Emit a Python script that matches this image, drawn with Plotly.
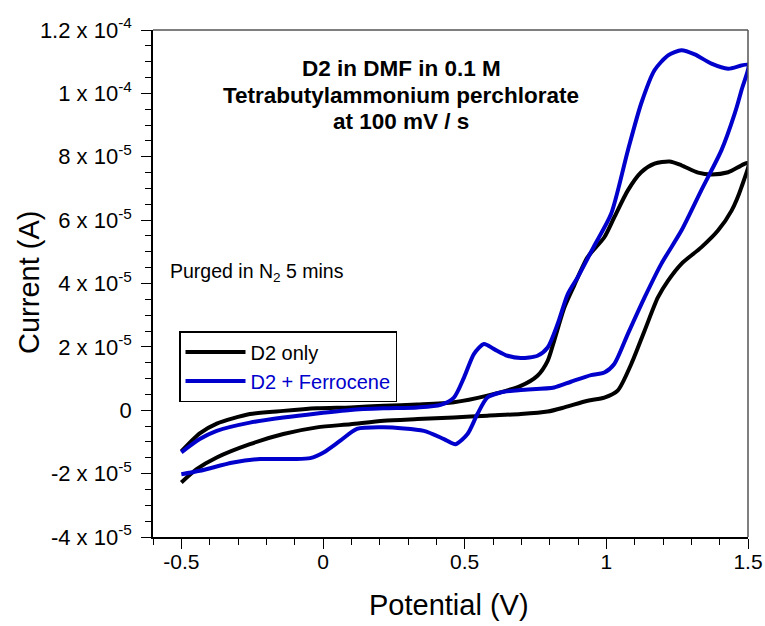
import plotly.graph_objects as go

# D2 only (black): anodic branch then cathodic return (current in microamps)
d2_fwd_x = [-0.5, -0.435, -0.375, -0.258, -0.14, -0.021, 0.097, 0.214, 0.333, 0.462, 0.58, 0.698, 0.757, 0.793, 0.816, 0.852, 0.887, 0.934, 0.993, 1.028, 1.076, 1.123, 1.17, 1.223, 1.265, 1.324, 1.371, 1.43, 1.5]
d2_fwd_y = [-13.0, -7.3, -4.2, -1.2, -0.2, 0.6, 0.9, 1.4, 1.8, 2.5, 4.6, 7.7, 10.9, 15.6, 22.0, 32.5, 39.5, 48.3, 54.6, 60.9, 69.4, 75.1, 77.8, 78.5, 77.3, 75.0, 74.4, 75.1, 78.0]
d2_rev_x = [1.5, 1.477, 1.442, 1.394, 1.335, 1.265, 1.218, 1.182, 1.135, 1.088, 1.04, 0.993, 0.934, 0.852, 0.793, 0.698, 0.58, 0.462, 0.333, 0.214, 0.097, -0.021, -0.14, -0.258, -0.375, -0.446, -0.5]
d2_rev_y = [78.0, 70.4, 63.0, 56.7, 51.4, 46.2, 40.9, 35.6, 25.1, 14.6, 6.2, 4.0, 3.0, 0.9, -0.4, -1.2, -1.7, -2.3, -2.8, -3.3, -4.4, -5.4, -7.5, -10.7, -14.9, -18.6, -22.8]

# D2 + Ferrocene (blue)
fc_fwd_x = [-0.5, -0.435, -0.375, -0.258, -0.14, -0.021, 0.097, 0.214, 0.333, 0.415, 0.462, 0.498, 0.533, 0.568, 0.604, 0.651, 0.698, 0.757, 0.793, 0.828, 0.864, 0.899, 0.958, 1.017, 1.076, 1.123, 1.17, 1.218, 1.265, 1.312, 1.371, 1.43, 1.5]
fc_fwd_y = [-13.3, -9.1, -6.5, -3.9, -2.3, -1.0, 0.1, 0.6, 0.9, 1.7, 4.0, 10.4, 17.8, 20.9, 19.3, 17.2, 16.5, 17.2, 19.8, 27.2, 36.7, 42.0, 52.0, 62.0, 82.0, 96.8, 107.3, 112.0, 113.6, 112.3, 109.4, 107.8, 109.0]
fc_rev_x = [1.5, 1.477, 1.453, 1.406, 1.335, 1.265, 1.194, 1.135, 1.076, 1.028, 0.993, 0.946, 0.875, 0.816, 0.698, 0.627, 0.58, 0.545, 0.51, 0.468, 0.427, 0.356, 0.214, 0.12, 0.061, 0.002, -0.045, -0.104, -0.222, -0.317, -0.435, -0.5]
fc_rev_y = [109.0, 101.0, 93.6, 82.0, 69.4, 56.7, 46.2, 35.6, 24.1, 14.6, 11.9, 11.1, 9.0, 7.2, 6.4, 5.6, 4.0, -1.2, -7.5, -10.7, -9.1, -6.5, -5.4, -5.9, -9.6, -13.3, -15.1, -15.4, -15.4, -16.5, -19.1, -20.2]

y_tickvals = [-4e-5, -2e-5, 0, 2e-5, 4e-5, 6e-5, 8e-5, 1e-4, 1.2e-4]
y_ticktext = ["-4 x 10<sup>-5</sup>", "-2 x 10<sup>-5</sup>", "0", "2 x 10<sup>-5</sup>", "4 x 10<sup>-5</sup>",
              "6 x 10<sup>-5</sup>", "8 x 10<sup>-5</sup>", "1 x 10<sup>-4</sup>", "1.2 x 10<sup>-4</sup>"]
x_tickvals = [-0.5, 0, 0.5, 1, 1.5]
x_ticktext = ["-0.5", "0", "0.5", "1", "1.5"]
title_lines = ["D2 in DMF in 0.1 M", "Tetrabutylammonium perchlorate", "at 100 mV / s"]

BLUE = "#0000CC"
FONT = "Liberation Sans, Arial, sans-serif"

# plot area target in page px: x 153..748, y 30..537 (body margin removed below)
def px(x):
    return (x - 153) / 595

def py(y):
    return (537 - y) / 507

fig = go.Figure()
fig.add_trace(go.Scatter(x=d2_fwd_x + d2_rev_x[1:], y=[v * 1e-6 for v in d2_fwd_y + d2_rev_y[1:]],
                         mode="lines", name="D2 only",
                         line=dict(color="black", width=4, shape="spline", smoothing=0.7)))
fig.add_trace(go.Scatter(x=fc_fwd_x + fc_rev_x[1:], y=[v * 1e-6 for v in fc_fwd_y + fc_rev_y[1:]],
                         mode="lines", name='<span style="color:#0000CC">D2 + Ferrocene</span>',
                         line=dict(color=BLUE, width=4, shape="spline", smoothing=0.7)))

title_y = [69, 95, 121]
annotations = [
    dict(text="<b>%s</b>" % t, xref="paper", yref="paper", x=px(401), y=py(yy),
         xanchor="center", yanchor="middle", showarrow=False, font=dict(size=22.5, family=FONT))
    for t, yy in zip(title_lines, title_y)
]
annotations += [
    dict(text="Purged in N<sub>2</sub> 5 mins", xref="paper", yref="paper",
         x=px(168), y=py(272), xanchor="left", yanchor="middle",
         showarrow=False, font=dict(size=19.5, family=FONT)),
    dict(text="Potential (V)", xref="paper", yref="paper", x=px(449), y=py(605),
         xanchor="center", yanchor="middle", showarrow=False, font=dict(size=29, family=FONT)),
    dict(text="Current (A)", xref="paper", yref="paper", x=px(29), y=py(283),
         xanchor="center", yanchor="middle", textangle=-90, showarrow=False, font=dict(size=29, family=FONT)),
]

fig.update_layout(
    width=765, height=626,
    margin=dict(l=153, r=17, t=30, b=89),
    paper_bgcolor="white", plot_bgcolor="white",
    font=dict(family=FONT, color="black", size=20),
    showlegend=True,
    legend=dict(x=px(179), y=py(331), xanchor="left", yanchor="top",
                bordercolor="black", borderwidth=1.5, bgcolor="white",
                font=dict(size=20), itemwidth=60, tracegroupgap=0),
    xaxis=dict(range=[-0.6, 1.5], tickvals=x_tickvals, ticktext=x_ticktext, automargin=False,
               showgrid=False, zeroline=False, showline=True, linecolor="black", linewidth=1.5,
               ticks="outside", ticklen=10, tickwidth=1.2, tickcolor="black", ticklabelstandoff=-5,
               minor=dict(dtick=0.1, tick0=0, ticks="outside", ticklen=6, tickcolor="black", tickwidth=1),
               tickfont=dict(size=21)),
    yaxis=dict(range=[-4e-5, 1.2e-4], tickvals=y_tickvals, ticktext=y_ticktext, automargin=False,
               showgrid=False, zeroline=False, showline=True, linecolor="black", linewidth=1.5,
               ticks="outside", ticklen=10, tickwidth=1.2, tickcolor="black", ticklabelstandoff=5,
               minor=dict(dtick=5e-6, tick0=0, ticks="outside", ticklen=6, tickcolor="black", tickwidth=1),
               tickfont=dict(size=22)),
    shapes=[
        dict(type="line", xref="paper", yref="paper", x0=0, x1=1, y0=1, y1=1, line=dict(color="#555555", width=1.5)),
        dict(type="line", xref="paper", yref="paper", x0=1, x1=1, y0=0, y1=1, line=dict(color="#555555", width=1.5)),
    ],
    annotations=annotations,
)

fig.write_html("out.html", config={"displayModeBar": False},
               post_script="document.body.style.margin='0';document.body.style.overflow='hidden';")
